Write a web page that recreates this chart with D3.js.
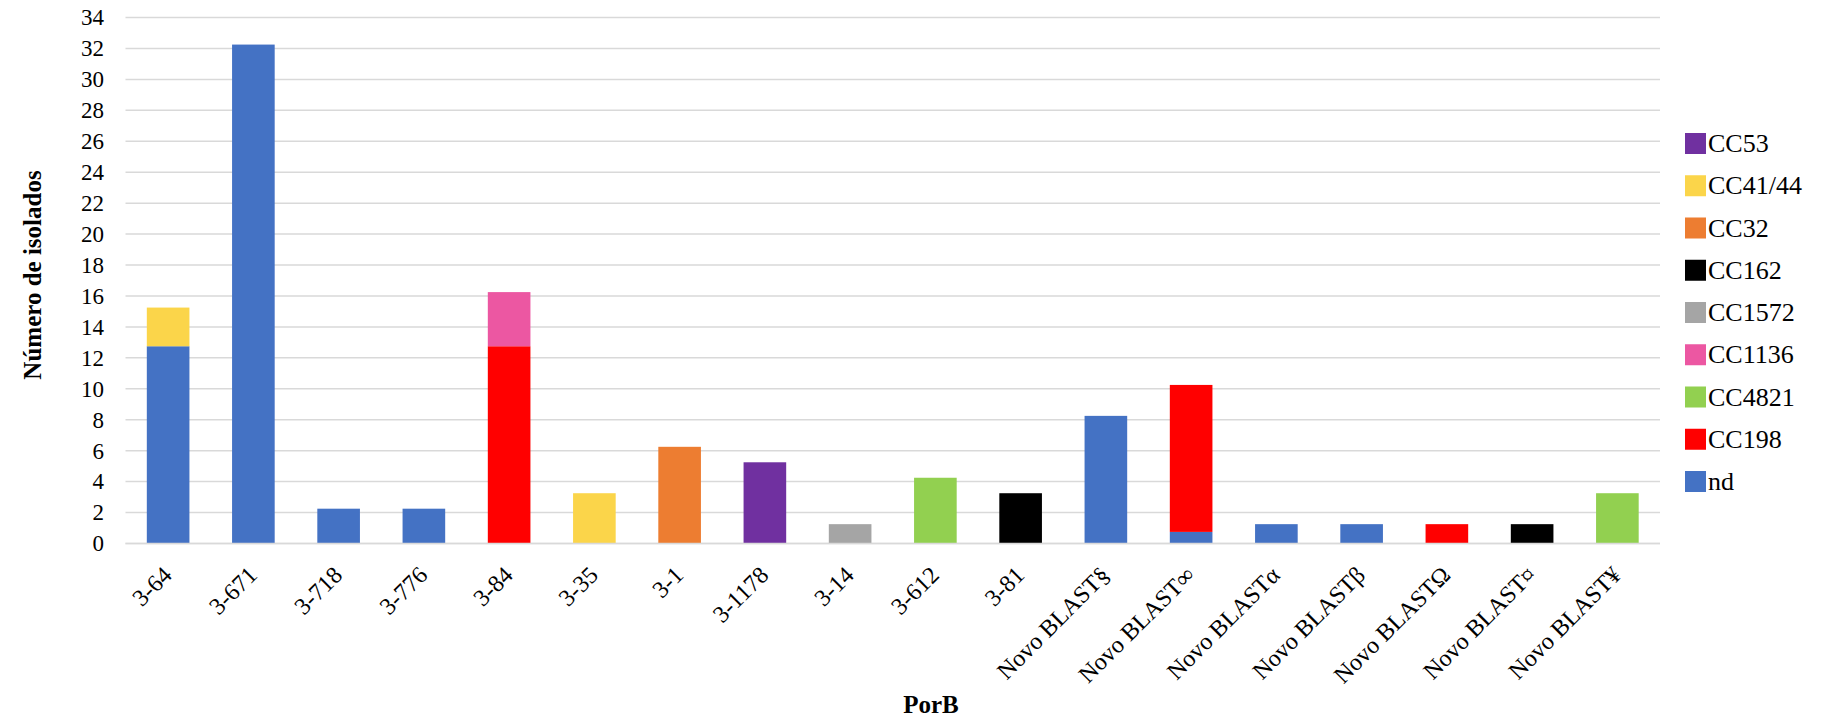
<!DOCTYPE html>
<html>
<head>
<meta charset="utf-8">
<script src="https://cdn.jsdelivr.net/npm/d3@7"></script>
<style>
  html, body { margin: 0; padding: 0; background: #fff; }
  svg { display: block; }
  svg text { font-family: "Liberation Serif", Tinos, "Times New Roman", "DejaVu Serif", serif; fill: #000; }
</style>
</head>
<body>
<svg id="chart" width="1824" height="717"></svg>
<script>
// Categorias (PorB)
const categories = ["3-64", "3-671", "3-718", "3-776", "3-84", "3-35", "3-1", "3-1178", "3-14",
  "3-612", "3-81", "Novo BLAST§", "Novo BLAST∞", "Novo BLASTα", "Novo BLASTβ",
  "Novo BLASTΩ", "Novo BLAST¤", "Novo BLAST¥"];

// Séries (ordem de empilhamento, de baixo para cima)
const seriesNames = ["nd", "CC198", "CC4821", "CC1136", "CC1572", "CC162", "CC32", "CC41/44", "CC53"];
const nd      = [12.75, 32.25, 2.25, 2.25, 0, 0, 0, 0, 0, 0, 0, 8.25, 0.75, 1.25, 1.25, 0, 0, 0];
const cc198   = [0, 0, 0, 0, 12.75, 0, 0, 0, 0, 0, 0, 0, 9.5, 0, 0, 1.25, 0, 0];
const cc4821  = [0, 0, 0, 0, 0, 0, 0, 0, 0, 4.25, 0, 0, 0, 0, 0, 0, 0, 3.25];
const cc1136  = [0, 0, 0, 0, 3.5, 0, 0, 0, 0, 0, 0, 0, 0, 0, 0, 0, 0, 0];
const cc1572  = [0, 0, 0, 0, 0, 0, 0, 0, 1.25, 0, 0, 0, 0, 0, 0, 0, 0, 0];
const cc162   = [0, 0, 0, 0, 0, 0, 0, 0, 0, 0, 3.25, 0, 0, 0, 0, 0, 1.25, 0];
const cc32    = [0, 0, 0, 0, 0, 0, 6.25, 0, 0, 0, 0, 0, 0, 0, 0, 0, 0, 0];
const cc4144  = [2.5, 0, 0, 0, 0, 3.25, 0, 0, 0, 0, 0, 0, 0, 0, 0, 0, 0, 0];
const cc53    = [0, 0, 0, 0, 0, 0, 0, 5.25, 0, 0, 0, 0, 0, 0, 0, 0, 0, 0];
const seriesValues = [nd, cc198, cc4821, cc1136, cc1572, cc162, cc32, cc4144, cc53];

const yTicks = d3.range(0, 36, 2);

const colors = {
  "nd": "#4472C4", "CC198": "#FF0000", "CC4821": "#92D050", "CC1136": "#EC57A2",
  "CC1572": "#A5A5A5", "CC162": "#000000", "CC32": "#ED7D31", "CC41/44": "#FBD54A", "CC53": "#7030A0"
};

// tabela para o d3.stack
const table = categories.map((c, i) => {
  const row = { cat: c };
  seriesNames.forEach((s, j) => row[s] = seriesValues[j][i]);
  return row;
});
const stacked = d3.stack().keys(seriesNames)(table);

const svg = d3.select("#chart");
const margin = { top: 17.5, right: 164, bottom: 173.5, left: 125.5 };
const width = 1824 - margin.left - margin.right;
const height = 717 - margin.top - margin.bottom;

const chart = svg.append("g")
  .attr("transform", `translate(${margin.left},${margin.top})`);

const x = d3.scaleBand()
  .domain(categories)
  .range([0, width])
  .paddingInner(0.5)
  .paddingOuter(0.25);

const y = d3.scaleLinear()
  .domain([0, 34])
  .range([height, 0]);

// Grelha
chart.append("g")
  .selectAll("line")
  .data(yTicks)
  .join("line")
  .attr("x1", 0).attr("x2", width)
  .attr("y1", d => y(d)).attr("y2", d => y(d))
  .style("stroke", "#d9d9d9")
  .style("stroke-width", 1.5);

// Barras
chart.selectAll(".layer")
  .data(stacked)
  .join("g")
  .attr("class", "layer")
  .style("fill", d => colors[d.key])
  .selectAll("rect")
  .data(d => d.filter(p => p[1] - p[0] > 0))
  .join("rect")
  .attr("x", d => x(d.data.cat))
  .attr("y", d => y(d[1]))
  .attr("height", d => y(d[0]) - y(d[1]))
  .attr("width", x.bandwidth());

// linha do zero por cima das barras
chart.append("line")
  .attr("x1", 0).attr("x2", width)
  .attr("y1", y(0)).attr("y2", y(0))
  .style("stroke", "#d9d9d9")
  .style("stroke-width", 1.5);

// Eixo Y
const yAxis = chart.append("g")
  .call(d3.axisLeft(y).tickValues(yTicks).tickSize(0).tickPadding(21.5));
yAxis.attr("font-family", null).attr("font-size", null);
yAxis.select(".domain").remove();
yAxis.selectAll("text")
  .style("font-size", "23px");

// Eixo X
const xAxis = chart.append("g")
  .attr("transform", `translate(0,${height})`)
  .call(d3.axisBottom(x).tickSize(0).tickPadding(0));
xAxis.attr("font-family", null).attr("font-size", null);
xAxis.select(".domain").remove();
xAxis.selectAll("text")
  .attr("dy", null)
  .attr("y", null)
  .attr("transform", "translate(5,33) rotate(-45)")
  .style("text-anchor", "end")
  .style("font-size", "24px");

// Títulos dos eixos
svg.append("text")
  .attr("text-anchor", "middle")
  .attr("x", 931)
  .attr("y", 713)
  .text("PorB")
  .style("font-size", "25px")
  .style("font-weight", "bold");

svg.append("text")
  .attr("text-anchor", "middle")
  .attr("transform", "translate(41,275) rotate(-90)")
  .text("Número de isolados")
  .style("font-size", "25px")
  .style("font-weight", "bold");

// Legenda (ordem inversa)
const legend = svg.append("g")
  .attr("transform", "translate(1685,133)");
const items = legend.selectAll("g")
  .data(seriesNames.slice().reverse())
  .join("g")
  .attr("transform", (d, i) => `translate(0,${i * 42.25})`);
items.append("rect")
  .attr("width", 21).attr("height", 21)
  .style("fill", d => colors[d]);
items.append("text")
  .attr("x", 23)
  .attr("y", 19)
  .text(d => d)
  .style("font-size", "26px");
</script>
</body>
</html>
